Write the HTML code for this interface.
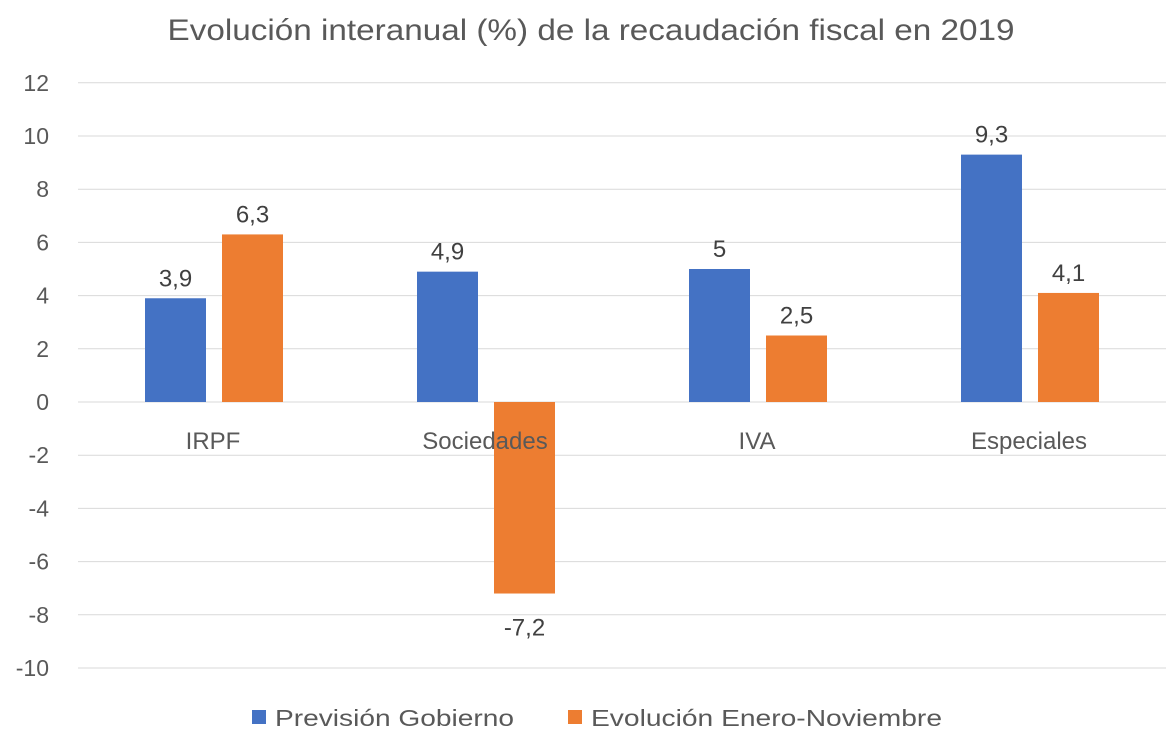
<!DOCTYPE html>
<html><head><meta charset="utf-8"><style>
body{margin:0;background:#fff;}
svg{display:block;font-family:"Liberation Sans",sans-serif;}
</style></head><body>
<svg id="chart" width="1174" height="754">
<text x="591" y="40" text-anchor="middle" font-size="30" fill="#595959" textLength="847" lengthAdjust="spacingAndGlyphs">Evolución interanual (%) de la recaudación fiscal en 2019</text>
<g id="grid"></g><g id="bars"></g><g id="labels"></g>
<g>
<rect x="252" y="710" width="14" height="14" fill="#4472C4"/>
<text x="275" y="726" font-size="23" fill="#595959" textLength="239" lengthAdjust="spacingAndGlyphs">Previsión Gobierno</text>
<rect x="568" y="710" width="14" height="14" fill="#ED7D31"/>
<text x="591" y="726" font-size="23" fill="#595959" textLength="351" lengthAdjust="spacingAndGlyphs">Evolución Enero-Noviembre</text>
</g>
</svg>
<script>
const categories=["IRPF","Sociedades","IVA","Especiales"];
const prevision=[3.9,4.9,5,9.3];
const evolucion=[6.3,-7.2,2.5,4.1];
const ticks=[12,10,8,6,4,2,0,-2,-4,-6,-8,-10];
const NS="http://www.w3.org/2000/svg";
const L=78,R=1166,y0=402,ppu=26.6;
const y=v=>y0-v*ppu;
const bw=(R-L)/categories.length;
const cx=i=>L+bw*(i+0.5);
function mk(tag,attrs,parent){const e=document.createElementNS(NS,tag);for(const k in attrs)e.setAttribute(k,attrs[k]);parent.appendChild(e);return e;}
const grid=document.getElementById('grid'),bars=document.getElementById('bars'),labels=document.getElementById('labels');
ticks.forEach(t=>{
 const l=mk('line',{x1:L,x2:R,y1:y(t),y2:y(t),stroke:'#d9d9d9','stroke-width':1},grid);
 
 
 const tx=mk('text',{x:49,y:y(t)+8,'text-anchor':'end','font-size':23,fill:'#595959'},grid);
 tx.textContent=String(t);
 
 
});
const fmt=v=>String(v).replace('.',',');
const w=61,gap=16;
categories.forEach((c,i)=>{
 [[prevision[i],'#4472C4',cx(i)-gap/2-w,'bar-prevision'],[evolucion[i],'#ED7D31',cx(i)+gap/2,'bar-evolucion']].forEach(([v,col,x,nm])=>{
  const top=Math.min(y(v),y0),h=Math.abs(y(v)-y0);
  const r=mk('rect',{x:x,y:top,width:w,height:h,fill:col},bars);
  
  
  const ly=v>=0?y(v)-12:y(v)+42;
  const t=mk('text',{x:x+w/2,y:ly,'text-anchor':'middle','font-size':24,fill:'#404040'},labels);
  t.textContent=fmt(v);
  
  
 });
 const t=mk('text',{x:cx(i)-1,y:449,'text-anchor':'middle','font-size':24,fill:'#595959'},labels);
 t.textContent=c;
 
 
});
</script>
</body></html>
